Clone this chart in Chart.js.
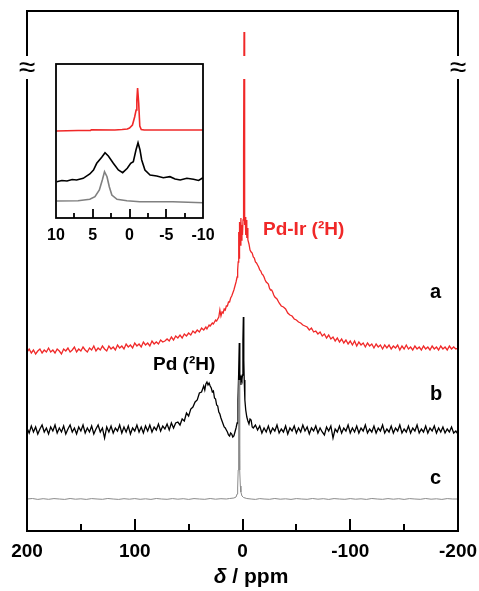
<!DOCTYPE html>
<html><head><meta charset="utf-8">
<script src="https://cdn.jsdelivr.net/npm/chart.js@4.4.0/dist/chart.umd.min.js"></script>
<style>
html,body{margin:0;padding:0;background:#fff;}
#wrap{position:relative;width:479px;height:591px;}
canvas{position:absolute;left:0;top:0;}
#inset{pointer-events:none;}
</style></head><body>
<div id="wrap"><canvas id="main" width="479" height="591"></canvas><canvas id="inset" width="479" height="591"></canvas></div>
<script>
// ---------- main spectra: [δ ppm, intensity (arbitrary units, incl. stacking offset)] ----------
const traceA = [[200,179],[198,182],[196,178],[194,181],[192,177],[190,180],[188,182],[186,178],[184,181],[182,179],[180,183],[178,179],[176,181],[174,178],[172,182],[170,180],[168,177],[166,182],[164,180],[162,183],[160,179],[158,181],[156,184],[154,179],[152,182],[150,180],[148,184],[146,181],[144,179],[142,183],[140,181],[138,185],[136,180],[134,183],[132,181],[130,185],[128,182],[126,180],[124,185],[122,182],[120,184],[118,181],[116,186],[114,183],[112,185],[110,182],[108,187],[106,184],[104,186],[102,183],[100,188],[98,185],[96,187],[94,184],[92,189],[90,186],[88,188],[86,185],[84,190],[82,187],[80,189],[78,187],[76,191],[74,189],[72,190],[70,192],[68,190],[66,194],[64,191],[62,195],[60,193],[58,196],[56,193],[54,197],[52,195],[50,198],[48,196],[46,200],[44,198],[42,201],[40,199],[38,203],[36,201],[34,204],[33,202],[31,206],[30,205],[28,208],[27,207],[25,211],[24,210],[22,214],[21,221],[20,215],[19,219],[18,218],[17,222],[16,221],[15,225],[14,225],[13,229],[12,229],[11,233],[10,235],[9,238],[8,241],[7,245],[6,249],[5,254],[4.5,261],[4,269],[3.5,299],[3.2,273],[3,281],[2.5,309],[2,286],[1.5,313],[1,291],[0.5,306],[0,296],[-0.5,311],[-1,381],[-1.4,499],[-1.8,381],[-2.2,306],[-2.6,314],[-3,296],[-3.5,311],[-4,293],[-4.5,303],[-5,291],[-6,287],[-7,281],[-8,279],[-9,278],[-10,274],[-11,273],[-12,269],[-13,268],[-14,266],[-15,264],[-16,261],[-17,260],[-18,257],[-19,256],[-20,254],[-21,251],[-22,249],[-23,248],[-24,247],[-25,243],[-26,241],[-27,241],[-28,239],[-29,236],[-30,234],[-32,232],[-34,228],[-36,225],[-38,224],[-40,222],[-42,218],[-44,216],[-46,215],[-48,212],[-50,211],[-52,209],[-54,208],[-56,206],[-58,205],[-60,204],[-62,201],[-64,203],[-66,199],[-68,200],[-70,197],[-72,199],[-74,195],[-76,197],[-78,193],[-80,196],[-82,192],[-84,194],[-86,190],[-88,193],[-90,189],[-92,192],[-94,188],[-96,191],[-98,187],[-100,190],[-102,186],[-104,190],[-106,185],[-108,189],[-110,186],[-112,188],[-114,184],[-116,188],[-118,185],[-120,187],[-122,183],[-124,187],[-126,184],[-128,186],[-130,182],[-132,186],[-134,183],[-136,186],[-138,182],[-140,185],[-142,183],[-144,186],[-146,181],[-148,185],[-150,182],[-152,186],[-154,182],[-156,184],[-158,181],[-160,185],[-162,182],[-164,184],[-166,181],[-168,185],[-170,182],[-172,184],[-174,181],[-176,185],[-178,182],[-180,184],[-182,181],[-184,185],[-186,182],[-188,184],[-190,181],[-192,185],[-194,182],[-196,184],[-198,182],[-200,183]];

const traceB = [[200,103],[198,98],[196,105],[194,99],[192,104],[190,97],[188,102],[186,106],[184,99],[182,103],[180,97],[178,104],[176,100],[174,106],[172,98],[170,103],[168,99],[166,105],[164,97],[162,102],[160,106],[158,99],[156,103],[154,97],[152,104],[150,100],[148,106],[146,98],[144,103],[142,99],[140,105],[138,97],[136,102],[134,106],[132,99],[130,103],[128,93],[126,104],[124,99],[122,105],[120,98],[118,103],[116,100],[114,106],[112,98],[110,104],[108,99],[106,105],[104,97],[102,103],[100,100],[98,106],[96,99],[94,104],[92,98],[90,105],[88,100],[86,106],[84,99],[82,104],[80,101],[78,107],[76,100],[74,105],[72,102],[70,107],[68,101],[66,108],[64,103],[62,108],[60,109],[58,106],[56,112],[54,110],[52,118],[50,115],[48,122],[46,124],[44,129],[42,131],[40,138],[38,139],[36,145],[35,141],[34,147],[33,149],[32,146],[31,148],[30,145],[29,143],[28,139],[27,140],[26,133],[25,132],[24,126],[23,125],[22,119],[21,117],[20,113],[19,110],[18,107],[17,104],[16,103],[15,101],[14,99],[13,96],[12,95],[11,98],[10,97],[9,94],[8,95],[7,99],[6,103],[5,108],[4.2,131],[3.6,156],[3,188],[2.5,151],[2,153],[1.5,146],[1,153],[0.5,151],[0,156],[-0.4,191],[-0.8,214],[-1.2,171],[-1.6,151],[-2.2,131],[-3,121],[-4,114],[-5,110],[-6,107],[-7,112],[-8,111],[-9,104],[-10,103],[-12,106],[-14,101],[-16,105],[-18,98],[-20,103],[-22,99],[-24,105],[-26,98],[-28,103],[-30,100],[-32,106],[-34,98],[-36,102],[-38,99],[-40,105],[-42,97],[-44,103],[-46,100],[-48,105],[-50,98],[-52,103],[-54,99],[-56,106],[-58,100],[-60,104],[-62,97],[-64,103],[-66,100],[-68,105],[-70,98],[-72,103],[-74,99],[-76,96],[-78,104],[-80,100],[-82,105],[-84,93],[-86,102],[-88,99],[-90,105],[-92,98],[-94,103],[-96,100],[-98,106],[-100,98],[-102,103],[-104,99],[-106,105],[-108,98],[-110,103],[-112,100],[-114,106],[-116,98],[-118,102],[-120,99],[-122,105],[-124,98],[-126,103],[-128,100],[-130,106],[-132,98],[-134,102],[-136,99],[-138,105],[-140,98],[-142,103],[-144,100],[-146,106],[-148,98],[-150,102],[-152,99],[-154,105],[-156,98],[-158,103],[-160,100],[-162,106],[-164,98],[-166,102],[-168,99],[-170,105],[-172,98],[-174,103],[-176,100],[-178,105],[-180,98],[-182,103],[-184,99],[-186,104],[-188,98],[-190,102],[-192,99],[-194,104],[-196,98],[-198,100],[-200,97]];

const traceC = [[200,32],[195,32.5],[190,31.6],[185,32.3],[180,31.7],[175,32.4],[170,32],[165,31.6],[160,32.5],[155,31.8],[150,32.2],[145,31.6],[140,32.4],[135,32],[130,31.7],[125,32.5],[120,32],[115,31.6],[110,32.3],[105,31.8],[100,32.4],[95,31.7],[90,32.2],[85,31.6],[80,32.5],[75,32],[70,31.7],[65,32.4],[60,31.8],[55,32.3],[50,31.6],[45,32.4],[40,32],[35,31.7],[30,32.5],[25,31.8],[20,32.3],[15,32],[12,32.5],[8,33],[6,34],[5,37],[4.5,43],[4,61],[3.6,101],[3.2,151],[2.8,101],[2.4,61],[2,45],[1.5,39],[0.5,35],[-1,33.5],[-4,32.5],[-8,32],[-12,31.6],[-16,32.4],[-20,32],[-25,31.7],[-30,32.5],[-35,31.8],[-40,32.2],[-45,31.6],[-50,32.4],[-55,32],[-60,31.7],[-65,32.5],[-70,31.8],[-75,32.3],[-80,31.6],[-85,32.4],[-90,32],[-95,31.7],[-100,32.4],[-105,31.8],[-110,32.2],[-115,31.6],[-120,32.5],[-125,32],[-130,31.7],[-135,32.4],[-140,31.8],[-145,32.3],[-150,31.6],[-155,32.4],[-160,32],[-165,31.7],[-170,32.5],[-175,31.8],[-180,32.2],[-185,31.6],[-190,32.4],[-195,32],[-200,32]];

const mainTickValues = [200,150,100,50,0,-50,-100,-150,-200];
const mainLabels = ['a','b','c'];

// ---------- inset spectra ----------
const insetA = [[10,87],[7,87.5],[5.3,87.5],[5.2,88.3],[2,88],[1,88.5],[0.3,89],[0,90],[-0.4,93],[-0.7,101],[-0.9,108],[-1.0,118],[-1.1,130],[-1.25,115],[-1.4,92],[-1.6,88.5],[-2,88],[-5,88],[-10,88]];
const insetB = [[9.9,36.3],[9.2,37.5],[8.5,37],[7.8,38.5],[7.2,38],[6.3,39.7],[5.4,44],[4.9,48],[4.46,54.7],[3.78,60.7],[3.33,65.3],[2.88,62],[2.2,54.7],[1.52,48],[0.93,45.3],[0.3,49.7],[-0.16,54.7],[-0.52,56.3],[-0.88,68],[-1.16,75.3],[-1.43,68],[-1.66,58],[-2.1,48],[-2.8,43],[-3.7,42],[-4.6,40.3],[-5.5,41.3],[-6.2,39],[-6.9,38],[-7.8,39.7],[-8.7,38.7],[-9.4,37.5],[-10,40.3]];
const insetC = [[9.9,17],[7.0,17.3],[5.4,18.7],[4.7,21.3],[4.1,28],[3.7,38],[3.4,46.3],[3.06,41.3],[2.75,31.3],[2.4,23],[1.7,18.7],[0.35,17.3],[-1.4,16.3],[-5.9,16.3],[-10,15.3]];
const insetTickValues = [10,7.5,5,2.5,0,-2.5,-5,-7.5,-10];

const pts = arr => arr.map(([x, y]) => ({x, y}));

Chart.defaults.font.family = '"Liberation Sans", Arial, sans-serif';
Chart.defaults.color = '#000';

const RED = '#f02828';
const FONT = '"Liberation Sans", Arial, sans-serif';
const noSidePad = s => { s.paddingLeft = 0; s.paddingRight = 0; };

const mainDeco = {
  id: 'mainDeco',
  afterDraw(chart) {
    const {ctx, chartArea: ca, scales: {x, y}} = chart;
    ctx.save();
    // break in the tall red peak
    const gTop = y.getPixelForValue(475), gBot = y.getPixelForValue(452);
    const px = x.getPixelForValue(-1.4);
    ctx.fillStyle = '#fff';
    ctx.fillRect(px - 6, gTop, 12, gBot - gTop);
    // frame
    ctx.strokeStyle = '#000';
    ctx.lineWidth = 2;
    ctx.lineCap = 'square';
    ctx.beginPath();
    ctx.moveTo(ca.left, gTop - 1); ctx.lineTo(ca.left, ca.top); ctx.lineTo(ca.right, ca.top); ctx.lineTo(ca.right, gTop - 1);
    ctx.moveTo(ca.left, gBot + 1); ctx.lineTo(ca.left, ca.bottom); ctx.lineTo(ca.right, ca.bottom); ctx.lineTo(ca.right, gBot + 1);
    ctx.stroke();
    // inward ticks
    ctx.lineCap = 'butt';
    ctx.beginPath();
    mainTickValues.forEach(v => {
      if (v === 200 || v === -200) return;
      const tx = Math.round(x.getPixelForValue(v));
      const len = v % 100 === 0 ? 12 : 7;
      ctx.moveTo(tx, ca.bottom); ctx.lineTo(tx, ca.bottom - len);
    });
    ctx.stroke();
    // break marks
    ctx.fillStyle = '#000';
    ctx.font = '30px ' + FONT;
    ctx.textAlign = 'center'; ctx.textBaseline = 'middle';
    const gm = (gTop + gBot) / 2 + 1;
    ctx.fillText('\u2248', ca.left, gm);
    ctx.fillText('\u2248', ca.right, gm);
    // annotations
    ctx.textAlign = 'left'; ctx.textBaseline = 'alphabetic';
    ctx.font = 'bold 19px ' + FONT;
    ctx.fillStyle = RED;
    ctx.fillText('Pd-Ir (\u00B2H)', 263, 235);
    ctx.fillStyle = '#000';
    ctx.fillText('Pd (\u00B2H)', 153, 370);
    ctx.font = 'bold 20px ' + FONT;
    ctx.fillText(mainLabels[0], 430, 298);
    ctx.fillText(mainLabels[1], 430, 400);
    ctx.fillText(mainLabels[2], 430, 484);
    // axis title
    ctx.font = 'italic bold 21px ' + FONT;
    const d = 'δ';
    const w1 = ctx.measureText(d).width;
    ctx.font = 'bold 21px ' + FONT;
    const rest = ' / ppm';
    const w2 = ctx.measureText(rest).width;
    const sx = 251 - (w1 + w2) / 2;
    ctx.font = 'italic bold 21px ' + FONT;
    ctx.fillText(d, sx, 583);
    ctx.font = 'bold 21px ' + FONT;
    ctx.fillText(rest, sx + w1, 583);
    ctx.restore();
  }
};

new Chart(document.getElementById('main'), {
  type: 'line',
  data: {
    datasets: [
      {data: pts(traceC), borderColor: '#8a8a8a', borderWidth: 1},
      {data: pts(traceB), borderColor: '#000', borderWidth: 1.3},
      {data: pts(traceA), borderColor: RED, borderWidth: 1.3}
    ]
  },
  options: {
    responsive: false, animation: false, events: [],
    layout: {padding: {left: 27, right: 21, top: 11, bottom: 0}},
    elements: {point: {radius: 0}, line: {tension: 0}},
    plugins: {legend: {display: false}, tooltip: {enabled: false}},
    scales: {
      x: {
        type: 'linear', min: -200, max: 200, reverse: true,
        grid: {display: false, drawTicks: false}, border: {display: false},
        afterFit(s) { s.height = 60; noSidePad(s); },
        ticks: {stepSize: 50, autoSkip: false, maxRotation: 0, padding: 9, color: '#000',
          font: {size: 19, weight: 'bold'},
          callback: v => (v % 100 === 0 ? String(v) : '')}
      },
      y: {display: false, min: 0, max: 520}
    }
  },
  plugins: [mainDeco]
});

const insetDeco = {
  id: 'insetDeco',
  afterDraw(chart) {
    const {ctx, chartArea: ca, scales: {x}} = chart;
    ctx.save();
    ctx.strokeStyle = '#000';
    ctx.lineWidth = 1.8;
    ctx.strokeRect(ca.left, ca.top, ca.right - ca.left, ca.bottom - ca.top);
    ctx.beginPath();
    insetTickValues.forEach(v => {
      if (Math.abs(v) === 10) return;
      const tx = Math.round(x.getPixelForValue(v));
      const len = v % 5 === 0 ? 9 : 5;
      ctx.moveTo(tx, ca.bottom); ctx.lineTo(tx, ca.bottom - len);
    });
    ctx.stroke();
    ctx.restore();
  }
};

new Chart(document.getElementById('inset'), {
  type: 'line',
  data: {
    datasets: [
      {data: pts(insetC), borderColor: '#808080', borderWidth: 1.6},
      {data: pts(insetB), borderColor: '#000', borderWidth: 1.6},
      {data: pts(insetA), borderColor: RED, borderWidth: 1.6}
    ]
  },
  options: {
    responsive: false, animation: false, events: [],
    layout: {padding: {left: 56, right: 276, top: 64, bottom: 343}},
    elements: {point: {radius: 0}, line: {tension: 0}},
    plugins: {legend: {display: false}, tooltip: {enabled: false}},
    scales: {
      x: {
        type: 'linear', min: -10, max: 10, reverse: true,
        grid: {display: false, drawTicks: false}, border: {display: false},
        afterFit(s) { s.height = 30; noSidePad(s); },
        ticks: {stepSize: 2.5, autoSkip: false, maxRotation: 0, padding: 8, color: '#000',
          font: {size: 16, weight: 'bold'},
          callback: v => (Math.abs(v % 5) < 1e-9 ? String(v) : '')}
      },
      y: {display: false, min: 0, max: 154}
    }
  },
  plugins: [insetDeco]
});
</script>
</body></html>
